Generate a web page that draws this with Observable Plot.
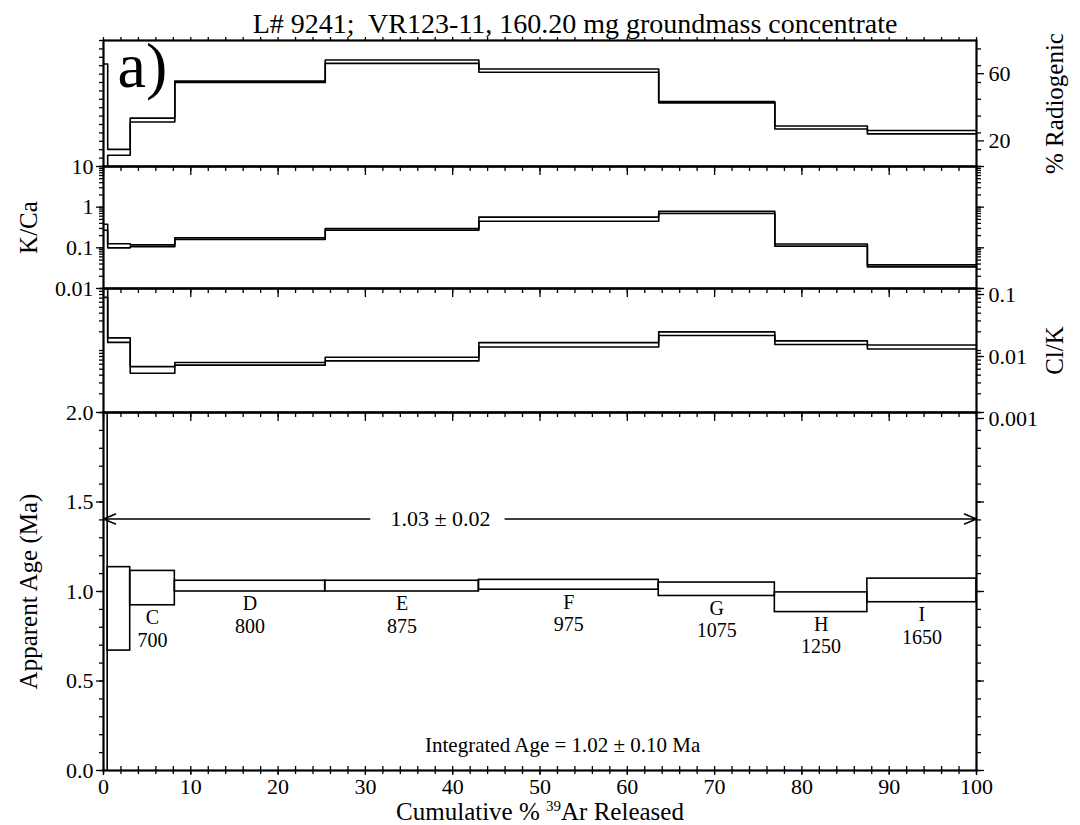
<!DOCTYPE html>
<html>
<head>
<meta charset="utf-8">
<script src="https://cdn.jsdelivr.net/npm/d3@7"></script>
<script src="https://cdn.jsdelivr.net/npm/@observablehq/plot@0.6"></script>
<style>
  body { margin: 0; background: #fff; }
  #chart { position: relative; width: 1080px; height: 825px; font-family: "Liberation Serif", "Times New Roman", serif; color: #000; background: #fff; overflow: hidden; }
  #chart svg { position: absolute; left: 0; }
  .title { position: absolute; left: 70px; width: 1010px; top: 10px; text-align: center; font-size: 28px; line-height: 1; white-space: pre; }
  .xlabel { position: absolute; left: 0; width: 1080px; top: 799px; text-align: center; font-size: 25px; line-height: 1; white-space: pre; }
  .xlabel sup { font-size: 15px; vertical-align: 9px; line-height: 0; }
</style>
</head>
<body>
<div id="chart">
  <div class="title">L# 9241;  VR123-11, 160.20 mg groundmass concentrate</div>
  <div class="xlabel">Cumulative % <sup>39</sup>Ar Released</div>
</div>
<script>
// ---- data ----
const stepLetters = ["A", "B", "C", "D", "E", "F", "G", "H", "I"];
const stepStart   = [0, 0.48, 3.06, 8.17, 25.4, 43.0, 63.6, 76.9, 87.5];
const stepEnd     = [0.48, 3.06, 8.17, 25.4, 43.0, 63.6, 76.9, 87.5, 100];
const stepTempC   = [null, null, 700, 800, 875, 975, 1075, 1250, 1650];

const radLow  = [-5, 6.7, 26.5, 50.0, 61.4, 56.1, 37.9, 22.3, 19.4];
const radHigh = [61, 10.2, 28.8, 50.8, 63.4, 58.0, 38.7, 24.1, 21.4];

const kcaLow  = [0.27, 0.10, 0.107, 0.160, 0.272, 0.45, 0.70, 0.110, 0.034];
const kcaHigh = [0.38, 0.126, 0.118, 0.176, 0.300, 0.57, 0.79, 0.124, 0.038];

const clkLow  = [0.072, 0.0135, 0.0043, 0.0058, 0.0068, 0.0114, 0.0175, 0.0125, 0.0106];
const clkHigh = [0.11, 0.0160, 0.0055, 0.0064, 0.0078, 0.0134, 0.0200, 0.0143, 0.0123];

const ageLow  = [-1, 0.67, 0.923, 1.0, 1.0, 1.01, 0.975, 0.885, 0.94];
const ageHigh = [3, 1.136, 1.115, 1.06, 1.06, 1.065, 1.05, 0.995, 1.072];

const radTickLabels = [20, 60];
const kcaTickLabels = [0.01, 0.1, 1, 10];
const clkTickLabels = [0.001, 0.01, 0.1];
const ageTickLabels = [0, 0.5, 1.0, 1.5, 2.0];
const xTickLabels = [0, 10, 20, 30, 40, 50, 60, 70, 80, 90, 100];

const plateauAge = 1.405;
const plateauText = "1.03 ± 0.02";
const plateauTextX = 38.6;
const plateauArrows = [{from: 30.5, to: 0}, {from: 46, to: 100}];
const integratedText = "Integrated Age = 1.02 ± 0.10 Ma";
const integratedX = 52.6;
const integratedY = 0.14;
const panelTag = "a)";

// ---- layout ----
const W = 1080, ML = 103, MR = 104;
const FONT = '"Liberation Serif", "Times New Roman", serif';
const root = document.getElementById("chart");
const idx = d3.range(stepLetters.length);
const xMinor = d3.range(0, 101, 2);
const xMajor = d3.range(0, 101, 10);
const blank = () => "";

function logMinor(lo, hi) {
  const out = [];
  for (let d = lo; d < hi * 0.999; d *= 10)
    for (let m = 1; m < 10; m++) out.push(+(m * d).toPrecision(3));
  out.push(hi);
  return out;
}
function stepPath(values) {
  const pts = idx.map(i => ({x: stepStart[i], y: values[i]}));
  pts.push({x: stepEnd[stepEnd.length - 1], y: values[values.length - 1]});
  return pts;
}
function stepLines(low, high) {
  const o = {x: "x", y: "y", curve: "step-after", stroke: "black", strokeWidth: 1.6, clip: true};
  return [Plot.line(stepPath(high), o), Plot.line(stepPath(low), o)];
}
function vLabel(text, side, offset) {
  return Plot.text([text], {text: d => d, frameAnchor: side, dx: side === "left" ? -offset : offset,
    rotate: -90, fontSize: 25, textAnchor: "middle", lineAnchor: "middle", fontFamily: FONT});
}
function base(top, height, mt, mb, y, marks) {
  const svg = Plot.plot({
    width: W, height, marginLeft: ML, marginRight: MR, marginTop: mt, marginBottom: mb,
    style: {fontFamily: FONT, fontSize: "22px", background: "transparent", overflow: "visible", color: "black"},
    x: {domain: [0, 100]},
    y,
    marks
  });
  svg.style.position = "absolute";
  svg.style.left = "0px";
  svg.style.top = top + "px";
  root.appendChild(svg);
}
const innerTopTicks = [
  Plot.axisX({anchor: "top", ticks: xMinor, tickSize: -4, tickFormat: blank, label: null, strokeWidth: 1.3}),
  Plot.axisX({anchor: "top", ticks: xMajor, tickSize: -8, tickFormat: blank, label: null, strokeWidth: 1.3})
];
const frame = Plot.frame({stroke: "black", strokeWidth: 2.2});

// Panel 1: % Radiogenic
base(0, 166, 40, 0, {domain: [0, 75]}, [
  Plot.axisX({anchor: "top", ticks: xMinor, tickSize: 4, tickFormat: blank, label: null, strokeWidth: 1.3}),
  Plot.axisY({anchor: "left", ticks: d3.range(0, 76, 5), tickSize: 4, tickFormat: blank, label: null, strokeWidth: 1.3}),
  Plot.axisY({anchor: "right", ticks: d3.range(0, 76, 10), tickSize: 4, tickFormat: blank, label: null, strokeWidth: 1.3}),
  Plot.axisY({anchor: "right", ticks: radTickLabels, tickSize: 7, tickPadding: 5, dy: 8, fontSize: 22, label: null, strokeWidth: 1.3}),
  ...stepLines(radLow, radHigh),
  Plot.text([panelTag], {text: d => d, frameAnchor: "top-left", dx: 14, dy: 26, fontSize: 64,
    textAnchor: "start", lineAnchor: "middle", fontFamily: FONT}),
  vLabel("% Radiogenic", "right", 78),
  frame
]);

// Panel 2: K/Ca
base(166, 122, 0, 0, {type: "log", domain: [0.01, 10]}, [
  ...innerTopTicks,
  Plot.axisY({anchor: "left", ticks: logMinor(0.01, 10), tickSize: 4, tickFormat: blank, label: null, strokeWidth: 1.3}),
  Plot.axisY({anchor: "left", ticks: kcaTickLabels, tickSize: 7, tickPadding: 3, tickFormat: d => String(d), fontSize: 22, label: null, strokeWidth: 1.3}),
  Plot.axisY({anchor: "right", ticks: logMinor(0.01, 10), tickSize: 4, tickFormat: blank, label: null, strokeWidth: 1.3}),
  Plot.axisY({anchor: "right", ticks: kcaTickLabels, tickSize: 7, tickFormat: blank, label: null, strokeWidth: 1.3}),
  ...stepLines(kcaLow, kcaHigh),
  vLabel("K/Ca", "left", 75),
  frame
]);

// Panel 3: Cl/K
base(288, 124, 0, 0, {type: "log", domain: [0.001, 0.1]}, [
  ...innerTopTicks,
  Plot.axisY({anchor: "left", ticks: logMinor(0.001, 0.1), tickSize: 4, tickFormat: blank, label: null, strokeWidth: 1.3}),
  Plot.axisY({anchor: "right", ticks: logMinor(0.001, 0.1), tickSize: 4, tickFormat: blank, label: null, strokeWidth: 1.3}),
  Plot.axisY({anchor: "right", ticks: clkTickLabels, tickSize: 7, tickPadding: 5, dy: 6, tickFormat: d => String(d), fontSize: 22, label: null, strokeWidth: 1.3}),
  ...stepLines(clkLow, clkHigh),
  vLabel("Cl/K", "right", 78),
  frame
]);

// Panel 4: Apparent age spectrum
const labeled = idx.filter(i => stepTempC[i] != null);
base(412, 400, 0, 42, {domain: [0, 2]}, [
  ...innerTopTicks,
  Plot.axisY({anchor: "left", ticks: d3.range(0, 2.01, 0.1).map(v => +v.toFixed(1)), tickSize: 4, tickFormat: blank, label: null, strokeWidth: 1.3}),
  Plot.axisY({anchor: "left", ticks: ageTickLabels, tickSize: 7, tickPadding: 3, tickFormat: d3.format(".1f"), fontSize: 22, label: null, strokeWidth: 1.3}),
  Plot.axisY({anchor: "right", ticks: d3.range(0, 2.01, 0.1).map(v => +v.toFixed(1)), tickSize: 4, tickFormat: blank, label: null, strokeWidth: 1.3}),
  Plot.axisY({anchor: "right", ticks: ageTickLabels, tickSize: 7, tickFormat: blank, label: null, strokeWidth: 1.3}),
  Plot.axisX({anchor: "bottom", ticks: xMinor, tickSize: -4, tickFormat: blank, label: null, strokeWidth: 1.3}),
  Plot.axisX({anchor: "bottom", ticks: xMinor, tickSize: 4, tickFormat: blank, label: null, strokeWidth: 1.3}),
  Plot.axisX({anchor: "bottom", ticks: xTickLabels, tickSize: 5, tickPadding: 3, fontSize: 22, label: null, strokeWidth: 1.3}),
  Plot.rect(idx, {x1: i => stepStart[i], x2: i => stepEnd[i], y1: i => ageLow[i], y2: i => ageHigh[i],
    stroke: "black", fill: "none", strokeWidth: 1.6, clip: true}),
  Plot.text(labeled, {x: i => (stepStart[i] + stepEnd[i]) / 2, y: i => ageLow[i],
    text: i => stepLetters[i] + "\n" + stepTempC[i],
    lineAnchor: "top", lineHeight: 1.12, dy: 3, fontSize: 20, fontFamily: FONT}),
  Plot.arrow(plateauArrows, {x1: "from", x2: "to", y1: () => plateauAge, y2: () => plateauAge,
    stroke: "black", strokeWidth: 1.4, headLength: 14, headAngle: 45}),
  Plot.text([plateauText], {x: () => plateauTextX, y: () => plateauAge, text: d => d, fontSize: 22, fontFamily: FONT}),
  Plot.text([integratedText], {x: () => integratedX, y: () => integratedY, text: d => d, fontSize: 21, fontFamily: FONT}),
  vLabel("Apparent Age (Ma)", "left", 75),
  frame
]);
</script>
</body>
</html>
